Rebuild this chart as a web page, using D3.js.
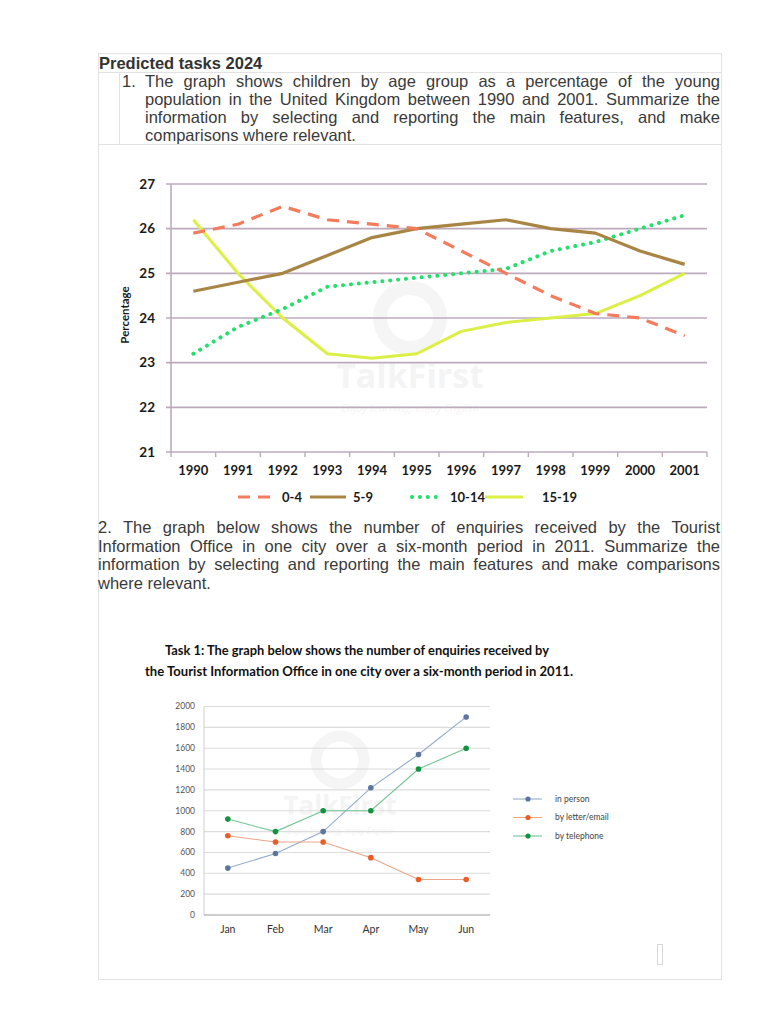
<!DOCTYPE html>
<html>
<head>
<meta charset="utf-8">
<script src="https://cdn.jsdelivr.net/npm/d3@7"></script>
<style>
  html, body { margin: 0; padding: 0; background: #fff; }
  #page { position: relative; width: 768px; height: 1024px; overflow: hidden; }
  .doc { position: absolute; font-family: "Liberation Sans", Arial, sans-serif; font-size: 16.5px; color: #3a3a3a; line-height: 18px; white-space: nowrap; }
  .just { text-align: justify; text-align-last: justify; white-space: normal; }
  .bline { position: absolute; background: #e2e2e2; }
  svg { position: absolute; left: 0; top: 0; }
</style>
</head>
<body>
<div id="page"></div>
<script>
// ---------------- DATA ----------------
const years = ["1990","1991","1992","1993","1994","1995","1996","1997","1998","1999","2000","2001"];
const age0to4   = [25.9, 26.1, 26.5, 26.2, 26.1, 26.0, 25.5, 25.0, 24.5, 24.1, 24.0, 23.6];
const age5to9   = [24.6, 24.8, 25.0, 25.4, 25.8, 26.0, 26.1, 26.2, 26.0, 25.9, 25.5, 25.2];
const age10to14 = [23.2, 23.8, 24.2, 24.7, 24.8, 24.9, 25.0, 25.1, 25.5, 25.7, 26.0, 26.3];
const age15to19 = [26.2, 25.0, 24.0, 23.2, 23.1, 23.2, 23.7, 23.9, 24.0, 24.1, 24.5, 25.0];
const ageTicks = [21, 22, 23, 24, 25, 26, 27];
const ageSeriesNames = ["0-4", "5-9", "10-14", "15-19"];

const months = ["Jan","Feb","Mar","Apr","May","Jun"];
const inPerson    = [450, 590, 800, 1220, 1540, 1900];
const byLetter    = [760, 700, 700, 550, 340, 340];
const byTelephone = [920, 800, 1000, 1000, 1400, 1600];
const enquiryTicks = [0, 200, 400, 600, 800, 1000, 1200, 1400, 1600, 1800, 2000];
const enquiryNames = ["in person", "by letter/email", "by telephone"];

const heading = "Predicted tasks 2024";
const para1 = [
  "The graph shows children by age group as a percentage of the young",
  "population in the United Kingdom between 1990 and 2001. Summarize the",
  "information by selecting and reporting the main features, and make",
  "comparisons where relevant."
];
const para2 = [
  "2. The graph below shows the number of enquiries received by the Tourist",
  "Information Office in one city over a six-month period in 2011. Summarize the",
  "information by selecting and reporting the main features and make comparisons",
  "where relevant."
];
const title2 = [
  "Task 1: The graph below shows the number of enquiries received by",
  "the Tourist Information Office in one city over a six-month period in 2011."
];

// ---------------- DOCUMENT ----------------
const page = d3.select("#page");
function bline(x, y, w, h) {
  page.append("div").attr("class", "bline")
    .style("left", x + "px").style("top", y + "px")
    .style("width", w + "px").style("height", h + "px");
}
bline(98, 53, 624, 1);
bline(98, 72, 624, 1);
bline(98, 144, 624, 1);
bline(98, 979, 624, 1);
bline(98, 53, 1, 927);
bline(721, 53, 1, 927);
bline(119, 72, 1, 72);

page.append("div").attr("class", "doc")
  .style("left", "99px").style("top", "54px")
  .style("font-weight", "bold").style("color", "#333")
  .text(heading);

page.append("div").attr("class", "doc")
  .style("left", "122px").style("top", "72px").text("1.");
para1.forEach((t, i) => {
  const last = i === para1.length - 1;
  page.append("div").attr("class", "doc" + (last ? "" : " just"))
    .style("left", "145px").style("top", (72 + i * 18) + "px")
    .style("width", last ? null : "575px")
    .text(t);
});
para2.forEach((t, i) => {
  const last = i === para2.length - 1;
  page.append("div").attr("class", "doc" + (last ? "" : " just"))
    .style("left", "98px").style("top", (518 + i * 18.7) + "px")
    .style("width", last ? null : "622px")
    .text(t);
});

// ---------------- SVG ----------------
const svg = page.append("svg").attr("width", 768).attr("height", 1024);

// ======== Chart 1 ========
const c1 = svg.append("g");
const x1 = d3.scalePoint().domain(years).range([171, 707]).padding(0.5);
const y1 = d3.scaleLinear().domain([21, 27]).range([452, 184]);
const gridC1 = "#bcaabc";

// watermark (very faint)
c1.append("circle").attr("cx", 410).attr("cy", 318).attr("r", 30)
  .attr("fill", "none").attr("stroke", "#f5f5f5").attr("stroke-width", 14);
c1.append("text").attr("x", 410).attr("y", 388).attr("text-anchor", "middle")
  .attr("font-family", "Open Sans, sans-serif").attr("font-weight", 700)
  .attr("font-size", 34).attr("fill", "#f4f4f4").text("TalkFirst");
c1.append("text").attr("x", 410).attr("y", 412).attr("text-anchor", "middle")
  .attr("font-family", "Open Sans, sans-serif").attr("font-style", "italic")
  .attr("font-size", 11).attr("fill", "#f5f5f5").text("Enjoy learning, enjoy English");

// gridlines
c1.append("g").selectAll("line").data(ageTicks.slice(1)).join("line")
  .attr("x1", 166).attr("x2", 707)
  .attr("y1", d => y1(d)).attr("y2", d => y1(d))
  .attr("stroke", gridC1).attr("stroke-width", 1.6);
// axes
c1.append("line").attr("x1", 171).attr("x2", 171).attr("y1", y1(27)).attr("y2", y1(21))
  .attr("stroke", gridC1).attr("stroke-width", 1.6);
c1.append("line").attr("x1", 166).attr("x2", 707).attr("y1", y1(21)).attr("y2", y1(21))
  .attr("stroke", gridC1).attr("stroke-width", 1.6);
const step1 = x1.step();
c1.append("g").selectAll("line").data(d3.range(years.length + 1)).join("line")
  .attr("x1", i => 171 + i * step1).attr("x2", i => 171 + i * step1)
  .attr("y1", y1(21)).attr("y2", y1(21) + 5)
  .attr("stroke", gridC1).attr("stroke-width", 1.4);

// y labels
c1.append("g").selectAll("text").data(ageTicks).join("text")
  .attr("x", 155).attr("y", d => y1(d)).attr("dy", "0.35em")
  .attr("text-anchor", "end")
  .attr("font-family", "Lato, sans-serif").attr("font-weight", 700)
  .attr("font-size", 13.5).attr("fill", "#1a1a1a").text(d => d);
// x labels
c1.append("g").selectAll("text").data(years).join("text")
  .attr("x", d => x1(d)).attr("y", 470).attr("dy", "0.35em")
  .attr("text-anchor", "middle")
  .attr("font-family", "Lato, sans-serif").attr("font-weight", 700)
  .attr("font-size", 13).attr("fill", "#1a1a1a").text(d => d);
// y title
c1.append("text").attr("transform", "translate(125,315) rotate(-90)")
  .attr("text-anchor", "middle").attr("dy", "0.35em")
  .attr("font-family", "Lato, sans-serif").attr("font-weight", 700)
  .attr("font-size", 11.5).attr("fill", "#1a1a1a").text("Percentage");

const ageSeries = [
  { name: ageSeriesNames[0], values: age0to4,   color: "#f47c5c", dash: "12,8", cap: "butt", w: 3.2 },
  { name: ageSeriesNames[1], values: age5to9,   color: "#a98545", dash: null,  cap: "butt", w: 3.2 },
  { name: ageSeriesNames[2], values: age10to14, color: "#22e06c", dash: "0.1,7.8", cap: "round", w: 4 },
  { name: ageSeriesNames[3], values: age15to19, color: "#dbef45", dash: null,  cap: "butt", w: 3 }
];
const line1 = d3.line().x((d, i) => x1(years[i])).y(d => y1(d));
[3, 2, 1, 0].forEach(k => {
  const s = ageSeries[k];
  c1.append("path").datum(s.values).attr("d", line1)
    .attr("fill", "none").attr("stroke", s.color).attr("stroke-width", s.w)
    .attr("stroke-dasharray", s.dash).attr("stroke-linecap", s.cap)
    .attr("stroke-linejoin", "round");
});

// legend
const leg1 = [
  { x1: 238, x2: 276, tx: 282 },
  { x1: 310, x2: 346, tx: 353 },
  { x1: 412, x2: 442, tx: 450 },
  { x1: 485, x2: 523, tx: 542 }
];
ageSeries.forEach((s, i) => {
  const L = leg1[i];
  c1.append("line").attr("x1", L.x1).attr("x2", L.x2).attr("y1", 497).attr("y2", 497)
    .attr("stroke", s.color).attr("stroke-width", s.w)
    .attr("stroke-dasharray", s.dash).attr("stroke-linecap", s.cap);
  c1.append("text").attr("x", L.tx).attr("y", 497).attr("dy", "0.35em")
    .attr("font-family", "Lato, sans-serif").attr("font-weight", 700)
    .attr("font-size", 13).attr("fill", "#1a1a1a").text(s.name);
});

// ======== Chart 2 ========
const c2 = svg.append("g");
title2.forEach((t, i) => {
  c2.append("text").attr("x", i === 0 ? 165 : 145).attr("y", 650 + i * 21).attr("dy", "0.35em")
    .attr("font-family", "Lato, sans-serif").attr("font-weight", 700)
    .attr("font-size", 13.5).attr("fill", "#111")
    .attr("textLength", i === 0 ? 384 : 428).attr("lengthAdjust", "spacingAndGlyphs")
    .text(t);
});

const x2 = d3.scaleBand().domain(months).range([204, 490]);
const y2 = d3.scaleLinear().domain([0, 2000]).range([915, 706.5]);

// watermark (very faint)
c2.append("circle").attr("cx", 340).attr("cy", 760).attr("r", 24)
  .attr("fill", "none").attr("stroke", "#f5f5f5").attr("stroke-width", 11);
c2.append("text").attr("x", 340).attr("y", 815).attr("text-anchor", "middle")
  .attr("font-family", "Open Sans, sans-serif").attr("font-weight", 700)
  .attr("font-size", 26).attr("fill", "#f4f4f4").text("TalkFirst");
c2.append("text").attr("x", 340).attr("y", 834).attr("text-anchor", "middle")
  .attr("font-family", "Open Sans, sans-serif").attr("font-style", "italic")
  .attr("font-size", 8.5).attr("fill", "#f3f3f3").text("Enjoy learning, enjoy English");

c2.append("g").selectAll("line").data(enquiryTicks.slice(1)).join("line")
  .attr("x1", 204).attr("x2", 490)
  .attr("y1", d => y2(d)).attr("y2", d => y2(d))
  .attr("stroke", "#dcdcdc").attr("stroke-width", 1.1);
c2.append("line").attr("x1", 204).attr("x2", 204).attr("y1", y2(2000)).attr("y2", y2(0))
  .attr("stroke", "#cfcfcf").attr("stroke-width", 1);
c2.append("line").attr("x1", 204).attr("x2", 490).attr("y1", y2(0)).attr("y2", y2(0))
  .attr("stroke", "#9a9a9a").attr("stroke-width", 1);

c2.append("g").selectAll("text").data(enquiryTicks).join("text")
  .attr("x", 195).attr("y", d => y2(d)).attr("dy", "0.35em")
  .attr("text-anchor", "end")
  .attr("font-family", "Lato, sans-serif").attr("font-size", 8.5)
  .attr("fill", "#555").text(d => d);
c2.append("g").selectAll("text").data(months).join("text")
  .attr("x", d => x2(d) + x2.bandwidth() / 2).attr("y", 929).attr("dy", "0.35em")
  .attr("text-anchor", "middle")
  .attr("font-family", "Lato, sans-serif").attr("font-size", 10.5)
  .attr("fill", "#333").text(d => d);

const enqSeries = [
  { name: enquiryNames[0], values: inPerson,    line: "#93abcb", dot: "#5a759e" },
  { name: enquiryNames[1], values: byLetter,    line: "#eaa58a", dot: "#ef5b26" },
  { name: enquiryNames[2], values: byTelephone, line: "#72c396", dot: "#13933f" }
];
const line2 = d3.line().x((d, i) => x2(months[i]) + x2.bandwidth() / 2).y(d => y2(d));
enqSeries.forEach(s => {
  c2.append("path").datum(s.values).attr("d", line2)
    .attr("fill", "none").attr("stroke", s.line).attr("stroke-width", 1.1);
  c2.append("g").selectAll("circle").data(s.values).join("circle")
    .attr("cx", (d, i) => x2(months[i]) + x2.bandwidth() / 2).attr("cy", d => y2(d))
    .attr("r", 2.8).attr("fill", s.dot);
});

enqSeries.forEach((s, i) => {
  const yy = 799 + i * 18.5;
  c2.append("line").attr("x1", 513).attr("x2", 542).attr("y1", yy).attr("y2", yy)
    .attr("stroke", s.line).attr("stroke-width", 1.1);
  c2.append("circle").attr("cx", 528).attr("cy", yy).attr("r", 2.6).attr("fill", s.dot);
  c2.append("text").attr("x", 555).attr("y", yy).attr("dy", "0.35em")
    .attr("font-family", "Lato, sans-serif").attr("font-size", 8.5)
    .attr("fill", "#444").text(s.name);
});

// small placeholder glyph near bottom right
svg.append("rect").attr("x", 657.5).attr("y", 944.5).attr("width", 5).attr("height", 20)
  .attr("fill", "none").attr("stroke", "#d8d8d8").attr("stroke-width", 1);
</script>
</body>
</html>
